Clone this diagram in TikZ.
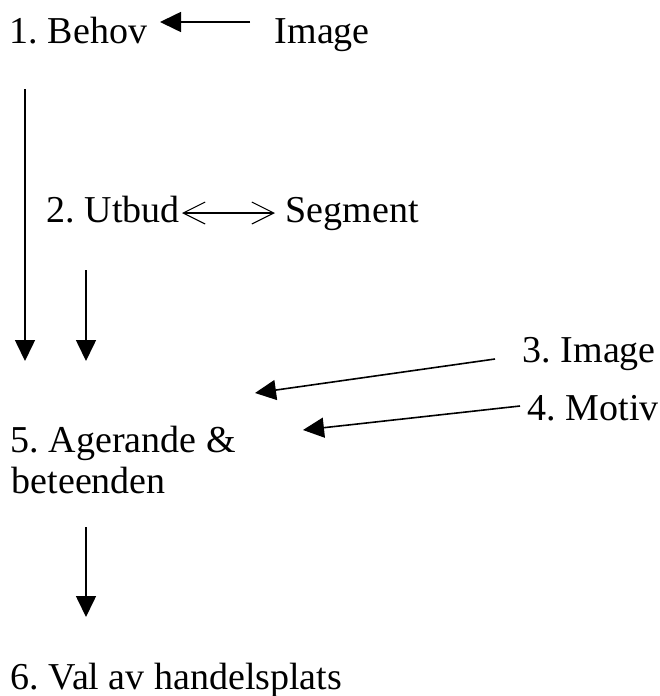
\documentclass[tikz,border=0pt]{standalone}
\usepackage{fontspec}
\setmainfont{Liberation Serif}
\usetikzlibrary{arrows.meta}
\frenchspacing
\begin{document}
\begin{tikzpicture}[x=1pt,y=-1pt,line width=1.6pt,
    every node/.style={anchor=base west,inner sep=0pt,font=\fontsize{38}{41}\selectfont},
    pil/.style={-{Triangle[length=21pt,width=20pt]}},
    dubbel/.style={{Straight Barb[length=22pt,width=22pt]}-{Straight Barb[length=22pt,width=22pt]},line width=1.1pt}]
  \useasboundingbox (0,0) rectangle (660,696);
  \node (Behov) at (9,43) {1. Behov};
  \node (Image) at (274,43) {Image};
  \node (Utbud) at (46,222) {2. Utbud};
  \node (Segment) at (285,222) {Segment};
  \node (ImageB) at (522,362) {3. Image};
  \node (Motiv) at (527,420) {4. Motiv};
  \node (Agerande) at (10,452) {5. Agerande \&};
  \node (Beteenden) at (11,493) {beteenden};
  \node (Val) at (10,689) {6. Val av handelsplats};
  % fria ändar
  \coordinate (b1) at (250,22);  \coordinate (b2) at (160,22);
  \coordinate (u1) at (182,213); \coordinate (u2) at (275,213);
  \coordinate (v1) at (25,89);   \coordinate (v2) at (25,361);
  \coordinate (w1) at (86,270);  \coordinate (w2) at (86,361);
  \coordinate (i1) at (495,359); \coordinate (i2) at (255,393);
  \coordinate (m1) at (520,406); \coordinate (m2) at (303,430);
  \coordinate (a1) at (86,527);  \coordinate (a2) at (86,617);
  \draw[pil] (b1) -- (b2);
  \draw[dubbel] (u1) -- (u2);
  \draw[pil] (v1) -- (v2);
  \draw[pil] (w1) -- (w2);
  \draw[pil] (i1) -- (i2);
  \draw[pil] (m1) -- (m2);
  \draw[pil] (a1) -- (a2);
\end{tikzpicture}
\end{document}
